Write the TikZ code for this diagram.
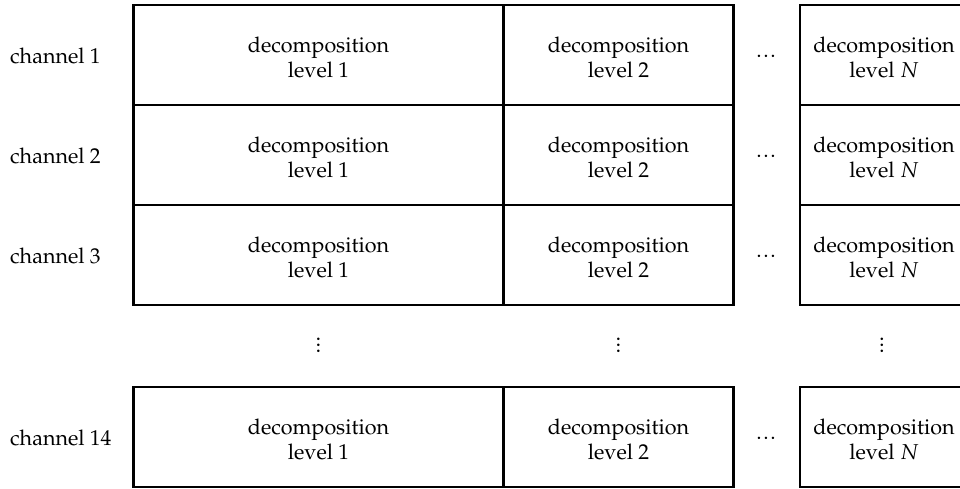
\documentclass[tikz,border=0pt]{standalone}
\usepackage[T1]{fontenc}
\usepackage{mathpazo}
\newcommand{\rowdots}{.\kern1.6pt.\kern1.6pt.}
\begin{document}
\begin{tikzpicture}[x=1pt,y=-1pt,
  cell/.style={draw=black, line width=2.6pt, rectangle, inner sep=0pt,
    minimum height=100pt},
  wide/.style={cell, minimum width=370pt},
  mid/.style={cell, minimum width=230pt},
  last/.style={cell, minimum width=168pt},
  celltext/.style={inner sep=0pt, align=center,
    font=\fontsize{21.5}{25}\selectfont},
  chan/.style={anchor=west, inner sep=0pt, font=\fontsize{21.5}{23}\selectfont},
  hdots/.style={inner sep=0pt, font=\fontsize{21.5}{23}\selectfont},
  vdotsty/.style={inner sep=0pt, scale=1.4, font=\fontsize{16}{18}\selectfont}]
\useasboundingbox (0,0) rectangle (960,489);
\begin{scope}
\clip (0,0) rectangle (960,489);
% channel rows: centres of the three upper rows and of the last one
\foreach \r/\y/\lab in {a/55/1, b/155/2, c/255/3, d/437/14}{
  \node[chan] (ch\r) at (10,\y+1) {channel \lab};
  \node[wide] (l1\r) at (318.5,\y) {};
  \node[mid]  (l2\r) at (618.5,\y) {};
  \node[last] (lN\r) at (884,\y) {};
  \node[celltext] (t1\r) at (l1\r.center) [yshift=-2pt] {decomposition\\level 1};
  \node[celltext] (t2\r) at (l2\r.center) [yshift=-2pt] {decomposition\\level 2};
  \node[celltext] (tN\r) at (lN\r.center) [yshift=-2pt] {decomposition\\level $N$};
  \node[hdots] (dd\r) at (766,\y+1) {\rowdots};
}
% vertical ellipses between the third and last rows
\node[vdotsty] (va) at (318.5,341) {$\vdots$};
\node[vdotsty] (vb) at (618.5,341) {$\vdots$};
\node[vdotsty] (vc) at (882,341) {$\vdots$};
\end{scope}
\end{tikzpicture}
\end{document}
